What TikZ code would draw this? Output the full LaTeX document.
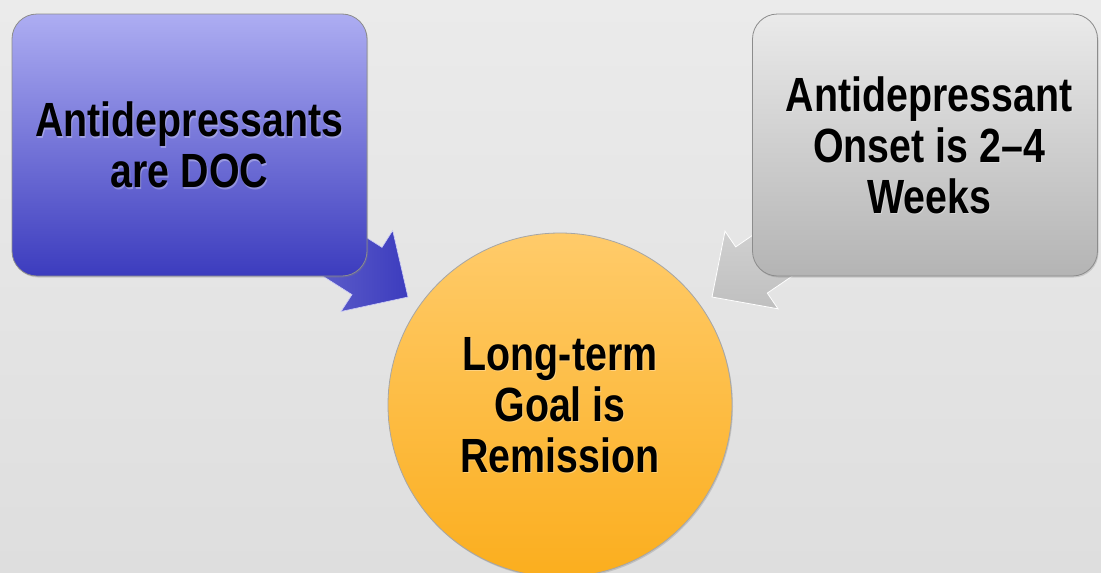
\documentclass[tikz,border=0pt]{standalone}
\usepackage{fontspec}
\newfontfamily\condfont{Liberation Sans}[FakeStretch=0.82]
\usetikzlibrary{shadows,calc}
\definecolor{bgtop}{HTML}{EBEBEB}
\definecolor{bgbot}{HTML}{DEDEDE}
\definecolor{bluetop}{HTML}{ADADF2}
\definecolor{bluebot}{HTML}{3C3CBE}
\definecolor{graytop}{HTML}{EAEAEA}
\definecolor{graybot}{HTML}{B4B4B4}
\definecolor{orgtop}{HTML}{FFCB6A}
\definecolor{orgbot}{HTML}{FBAE1E}
\tikzset{
  txt/.style={font=\condfont\bfseries\fontsize{48}{51}\selectfont, align=center, text=black, inner sep=0pt},
  txtsh/.style={txt, text=white, opacity=0.3},
  boxshape/.style={rectangle, rounded corners=25pt, minimum width=355pt, minimum height=262pt,
    draw=black!45, line width=0.8pt, drop shadow={opacity=0.3, shadow xshift=1pt, shadow yshift=-1.5pt}},
  bluebox/.style={boxshape, top color=bluetop, bottom color=bluebot},
  graybox/.style={boxshape, top color=graytop, bottom color=graybot, minimum width=345pt},
  goal/.style={circle, minimum size=344pt, inner sep=0pt, top color=orgtop, bottom color=orgbot,
    draw=black!35, line width=0.8pt, drop shadow={opacity=0.3, shadow xshift=1pt, shadow yshift=-1.5pt}},
  bluearrow/.style={left color=bluebot!80!white, right color=bluebot, draw=bluetop!60!white, line width=0.6pt},
  grayarrow/.style={top color=black!17, bottom color=black!25, draw=white, line width=0.8pt},
}
\begin{document}
\begin{tikzpicture}[x=1pt,y=-1pt]
\useasboundingbox (0,0) rectangle (1101,573);
\clip (0,0) rectangle (1101,573);
\shade[top color=bgtop, bottom color=bgbot] (0,0) rectangle (1101,573);

% arrows (drawn behind boxes)
\shade[bluearrow] (301.4,262.5) -- (352,294.6) -- (341,311.5) -- (408,297) -- (392.7,230.5) -- (382,247.4) -- (331.4,215.3) -- cycle;
\shade[grayarrow] (816.9,259.3) -- (767.3,293.1) -- (778,308.8) -- (712,297) -- (725,231.2) -- (735.7,246.9) -- (785.2,212.9) -- cycle;

% boxes
\node[bluebox] (doc) at (189.5,145) {};
\node[graybox] (onset) at (925,145) {};
\node[goal] (goal) at (560,405) {};

% texts
\node[txtsh] at ([shift={(1pt,-1.5pt)}]doc.center) {Antidepressants\\are DOC};
\node[txt] (doctxt) at (doc.center) {Antidepressants\\are DOC};
\node[txtsh] at ([shift={(1pt,-1.5pt)}]$(onset.center)+(4,0)$) {Antidepressant\\Onset is 2–4\\Weeks};
\node[txt] (onsettxt) at ($(onset.center)+(4,0)$) {Antidepressant\\Onset is 2–4\\Weeks};
\node[txtsh] at ([shift={(1pt,-1.5pt)}]goal.center) {Long-term\\Goal is\\Remission};
\node[txt] (goaltxt) at (goal.center) {Long-term\\Goal is\\Remission};
\end{tikzpicture}
\end{document}
